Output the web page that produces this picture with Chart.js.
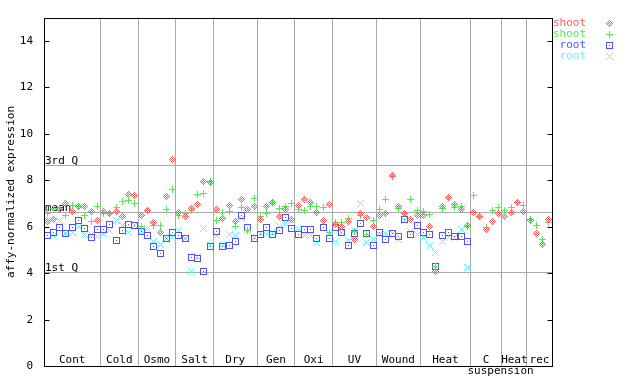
<!DOCTYPE html>
<html><head><meta charset="utf-8">
<script src="https://cdn.jsdelivr.net/npm/chart.js@4.4.0/dist/chart.umd.min.js"></script>
<style>html,body{margin:0;padding:0;background:#fff;}canvas{display:block;}</style>
</head><body>
<canvas id="c" width="640" height="384"></canvas>
<script>
// ---- data ----
const groupNames = ['Cont','Cold','Osmo','Salt','Dry','Gen','Oxi','UV','Wound','Heat','C','Heat','rec'];
const groupSizes = [9,6,6,6,7,6,6,7,7,8,5,4,4];
const subLabel = 'suspension';
const subLabelPos = 72.3;
const yTickValues = [0,2,4,6,8,10,12,14];
const refValues = [8.67, 6.62, 4.08];
const refLabels = ['3rd Q','mean','1st Q'];
const seriesLabels = ['shoot','shoot','root','root'];

const shootA = [6.24,6.33,6.75,7.01,6.68,6.89,6.88,6.67,6.27,
  6.67,6.59,6.67,6.45,7.41,7.34,
  6.48,6.69,6.17,5.77,7.30,8.88,
  6.62,6.44,6.79,6.96,7.97,7.89,
  6.74,6.36,6.91,6.24,7.16,6.74,6.88,
  6.32,6.86,7.04,6.44,6.74,6.32,
  6.91,7.16,7.04,6.61,6.27,6.95,
  6.12,6.03,6.24,5.47,6.58,6.40,6.03,
  6.48,6.57,8.21,6.86,6.57,6.32,6.48,
  6.48,6.02,4.08,6.86,7.28,6.96,6.76,6.05,
  6.61,6.43,5.89,6.23,6.57,
  6.44,6.61,7.03,6.65,
  6.27,5.73,5.26,6.32];
const shootB = [6.59,6.78,6.74,6.50,6.92,6.89,6.50,6.21,6.88,
  6.57,6.57,6.82,7.09,7.13,7.01,
  6.03,6.71,6.05,6.08,6.74,7.59,
  6.50,6.57,6.71,7.38,7.45,7.94,
  6.27,6.61,6.67,6.03,6.82,5.85,7.20,
  6.44,6.57,7.04,6.78,6.88,6.99,
  6.74,6.69,6.86,6.86,6.82,5.77,
  6.20,6.20,6.36,5.82,6.48,5.68,6.27,
  6.74,7.16,8.18,6.78,6.57,7.16,6.69,
  6.65,6.53,4.29,6.78,7.25,6.82,6.88,6.02,
  7.33,6.44,5.98,6.69,6.82,
  6.69,6.82,7.04,6.91,
  6.32,6.06,5.47,6.19];
const rootA = [5.61,5.77,5.98,5.71,5.98,6.29,5.94,5.56,5.89,
  5.89,6.11,5.40,5.84,6.11,6.05,
  5.79,5.61,5.15,4.85,5.49,5.77,
  5.61,5.52,4.67,4.63,4.08,5.14,
  5.82,5.14,5.18,5.39,6.48,5.98,5.52,
  5.68,5.98,5.68,5.84,6.40,5.94,
  5.68,5.89,5.89,5.52,5.98,5.52,
  5.98,5.77,5.22,5.73,6.15,5.73,5.18,
  5.77,5.47,5.71,5.60,6.32,5.68,6.06,
  5.77,5.68,4.29,5.64,5.77,5.60,5.60,5.35,
  null,null,null,null,null,null,null,null,null,null,null,null,null];
const rootB = [6.29,5.63,6.29,5.73,5.75,6.03,5.68,5.68,5.60,
  5.73,5.84,6.29,6.08,5.77,6.05,
  5.82,5.94,5.35,5.26,5.49,5.58,
  5.84,5.49,4.08,4.72,5.94,5.26,
  5.64,5.26,5.68,5.64,6.36,5.85,5.56,
  5.70,5.68,5.77,6.03,6.15,6.27,
  5.94,5.64,5.64,5.31,6.15,5.70,
  5.39,5.77,5.43,5.85,6.99,5.31,5.47,
  5.68,5.73,5.73,5.47,6.27,5.81,5.68,
  5.56,5.22,4.88,5.39,5.56,5.56,5.89,4.25,
  null,null,null,null,null,null,null,null,null,null,null,null,null];

// ---- derived ticks ----
const xTicks = [];
let start = 0;
groupSizes.forEach((n, g) => {
  xTicks.push({v: start + (n - 1) / 2, label: groupNames[g], sep: false});
  if (g < groupSizes.length - 1) xTicks.push({v: start + n - 0.5, label: '', sep: true});
  start += n;
});
xTicks.push({v: subLabelPos, label: ['', subLabel], sep: false});
const nPts = start;

// ---- markers ----
const FONT = '"DejaVu Sans Mono", monospace';
const colors = ['#ff5a5a', '#50ee50', '#5050ff', '#60f4f4'];
function marker(color, rows) {
  const c = document.createElement('canvas');
  c.width = rows[0].length; c.height = rows.length;
  const g = c.getContext('2d'); g.fillStyle = color;
  rows.forEach((r, y) => { for (let x = 0; x < r.length; x++) if (r[x] === 'X') g.fillRect(x, y, 1, 1); });
  return c;
}
const markers = [
  marker(colors[0], ['...X...','..X.X..','.X.X.X.','X.X.X.X','.X.X.X.','..X.X..','...X...']),
  marker(colors[1], ['...X...','...X...','...X...','XXXXXXX','...X...','...X...','...X...']),
  marker(colors[2], ['XXXXXXX','X.....X','X.....X','X..X..X','X.....X','X.....X','XXXXXXX']),
  marker(colors[3], ['X.....X','.X...X.','..X.X..','...X...','..X.X..','.X...X.','X.....X'])
];
const toPts = arr => arr.map((v, i) => v == null ? null : {x: i, y: v}).filter(p => p);

const decor = {
  id: 'decor',
  beforeDatasetsDraw(chart) {
    const {ctx, chartArea: a, scales: {y}} = chart;
    ctx.save();
    ctx.strokeStyle = '#aaaaaa'; ctx.lineWidth = 1;
    ctx.font = '11px ' + FONT; ctx.fillStyle = '#000';
    ctx.textAlign = 'left'; ctx.textBaseline = 'alphabetic';
    refValues.forEach((v, i) => {
      const py = Math.round(y.getPixelForValue(v)) + 0.5;
      ctx.beginPath(); ctx.moveTo(a.left, py); ctx.lineTo(a.right, py); ctx.stroke();
      ctx.fillText(refLabels[i], a.left + 1, py - 1.5);
    });
    ctx.restore();
    ctx.imageSmoothingEnabled = false;
  },
  afterDraw(chart) {
    const {ctx, chartArea: a, scales: {y}} = chart;
    ctx.save();
    ctx.imageSmoothingEnabled = false;
    ctx.strokeStyle = '#000'; ctx.lineWidth = 1;
    const L = Math.round(a.left) + 0.5, R = Math.round(a.right) + 0.5;
    const T = Math.round(a.top) + 0.5, B = Math.round(a.bottom) + 0.5;
    ctx.strokeRect(L, T, R - L, B - T);
    yTickValues.forEach(v => {
      const py = Math.round(y.getPixelForValue(v)) + 0.5;
      ctx.beginPath();
      ctx.moveTo(L, py); ctx.lineTo(L + 5, py);
      ctx.moveTo(R - 5, py); ctx.lineTo(R, py);
      ctx.stroke();
    });
    ctx.font = '11px ' + FONT; ctx.textAlign = 'right'; ctx.textBaseline = 'middle';
    chart.data.datasets.forEach((ds, i) => {
      const ly = 23.3 + i * 11.1;
      ctx.fillStyle = colors[i];
      ctx.fillText(ds.label, 586, ly);
      ctx.drawImage(markers[i], 606, Math.round(ly - 3.5));
    });
    ctx.restore();
  }
};

new Chart(document.getElementById('c'), {
  type: 'scatter',
  data: {
    datasets: [shootA, shootB, rootA, rootB].map((arr, i) => ({
      label: seriesLabels[i],
      data: toPts(arr),
      pointStyle: markers[i],
      pointRadius: 3.5,
      showLine: false
    }))
  },
  options: {
    responsive: false,
    animation: false,
    events: [],
    layout: {padding: {left: 0, right: 88, top: 13, bottom: 0}},
    plugins: {legend: {display: false}, tooltip: {enabled: false}},
    scales: {
      x: {
        type: 'linear', position: 'bottom', min: -0.5, max: nPts - 0.5,
        afterBuildTicks: s => { s.ticks = xTicks.map(t => ({value: t.v})); },
        afterFit: s => { s.height = 15; },
        ticks: {
          autoSkip: false, maxRotation: 0, minRotation: 0, padding: 1, mirror: true, color: '#000',
          font: {family: FONT, size: 11, lineHeight: 1},
          callback: (v, i) => xTicks[i] ? xTicks[i].label : ''
        },
        grid: {
          drawTicks: false, lineWidth: 1,
          color: c => (xTicks[c.index] && xTicks[c.index].sep) ? '#aaaaaa' : 'rgba(0,0,0,0)'
        },
        border: {display: false}
      },
      y: {
        type: 'linear', position: 'left', min: 0, max: 15,
        afterBuildTicks: s => { s.ticks = yTickValues.map(v => ({value: v})); },
        afterFit: s => { s.width = 44; },
        ticks: {padding: 11, color: '#000', font: {family: FONT, size: 11}},
        grid: {display: false, drawTicks: false},
        border: {display: false},
        title: {display: true, text: 'affy-normalized expression', color: '#000',
          font: {family: FONT, size: 11}, padding: {top: 5, bottom: 0}}
      }
    }
  },
  plugins: [decor]
});
</script>
</body></html>
